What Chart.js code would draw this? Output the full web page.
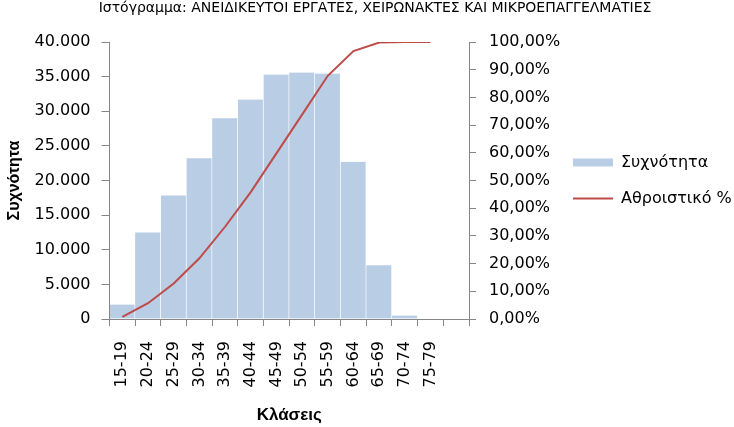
<!DOCTYPE html>
<html>
<head>
<meta charset="utf-8">
<script src="https://cdn.jsdelivr.net/npm/chart.js@4.4.1/dist/chart.umd.min.js"></script>
<style>
  html, body { margin: 0; padding: 0; background: #ffffff; }
  #wrap { width: 734px; height: 427px; }
</style>
</head>
<body>
<div id="wrap"><canvas id="c" width="734" height="427"></canvas></div>
<script>
// ---- data ----
const chartTitle = 'Ιστόγραμμα: ΑΝΕΙΔΙΚΕΥΤΟΙ ΕΡΓΑΤΕΣ, ΧΕΙΡΩΝΑΚΤΕΣ ΚΑΙ ΜΙΚΡΟΕΠΑΓΓΕΛΜΑΤΙΕΣ';
const classes = ['15-19', '20-24', '25-29', '30-34', '35-39', '40-44', '45-49',
                 '50-54', '55-59', '60-64', '65-69', '70-74', '75-79', ''];
const frequency = [2100, 12500, 17850, 23200, 29000, 31700, 35300,
                   35600, 35450, 22700, 7750, 500, 0, 0];
const cumulativePct = [0.8, 5.7, 12.8, 21.9, 33.3, 45.8, 59.8,
                       73.8, 87.8, 96.7, 99.8, 100, 100, null];
const seriesNames = ['Συχνότητα', 'Αθροιστικό %'];
const xAxisTitle = 'Κλάσεις';
const yAxisTitle = 'Συχνότητα';
const freqTickStep = 5000;
const freqMax = 40000;
const pctTickStep = 10;
const pctMax = 100;

// ---- styling ----
const BAR_COLOR = '#B9CDE5';
const LINE_COLOR = '#BE4B48';
const AXIS_COLOR = '#868686';
const TICK_FONT = { family: "'DejaVu Sans', sans-serif", size: 16 };
const AXIS_TITLE_FONT = { family: "'Liberation Sans', Arial, sans-serif", size: 16, weight: 'bold' };

function fmtThousands(v) {
  return String(v).replace(/\B(?=(\d{3})+(?!\d))/g, '.');
}
function fmtPct(v) {
  return v.toFixed(2).replace('.', ',') + '%';
}

// place legend / title where the reference has them (after Chart.js layout)
const boxPlacer = {
  id: 'boxPlacer',
  afterLayout(chart) {
    const lg = chart.legend;
    if (lg) { lg.left = 553; lg.right = chart.width; lg.width = lg.right - lg.left; }
    const tb = chart.titleBlock;
    if (tb) { tb.left = 16; tb.right = chart.width; tb.width = tb.right - tb.left; }
  }
};

new Chart(document.getElementById('c'), {
  type: 'bar',
  data: {
    labels: classes,
    datasets: [
      {
        type: 'line',
        label: seriesNames[1],
        data: cumulativePct,
        yAxisID: 'y1',
        borderColor: LINE_COLOR,
        backgroundColor: LINE_COLOR,
        borderWidth: 2,
        pointRadius: 0,
        tension: 0,
        fill: false,
        spanGaps: false
      },
      {
        type: 'bar',
        label: seriesNames[0],
        data: frequency,
        yAxisID: 'y',
        backgroundColor: BAR_COLOR,
        borderColor: '#ffffff',
        borderWidth: { top: 0, right: 1, bottom: 0, left: 0 },
        borderSkipped: false,
        barPercentage: 1,
        categoryPercentage: 1
      }
    ]
  },
  options: {
    responsive: false,
    devicePixelRatio: 1,
    animation: false,
    layout: { padding: 0 },
    plugins: {
      tooltip: { enabled: false },
      title: {
        display: true,
        text: chartTitle,
        color: '#000000',
        font: { family: "'DejaVu Sans', sans-serif", size: 14, weight: 'normal', lineHeight: 1.2 },
        padding: { top: 0, bottom: 25.2 }
      },
      legend: {
        display: true,
        position: 'right',
        align: 'center',
        fullSize: false,
        maxWidth: 100,
        labels: {
          color: '#000000',
          font: { family: "'DejaVu Sans', sans-serif", size: 16 },
          usePointStyle: true,
          pointStyleWidth: 40,
          boxHeight: 8,
          padding: 20,
          sort: (a, b) => b.datasetIndex - a.datasetIndex,
          generateLabels(chart) {
            const items = Chart.defaults.plugins.legend.labels.generateLabels(chart);
            items.forEach(it => {
              const ds = chart.data.datasets[it.datasetIndex];
              if (ds.type === 'line') {
                it.pointStyle = 'line';
                it.strokeStyle = LINE_COLOR;
                it.lineWidth = 2;
              } else {
                it.pointStyle = 'rect';
                it.fillStyle = BAR_COLOR;
                it.strokeStyle = BAR_COLOR;
                it.lineWidth = 0;
              }
            });
            return items;
          }
        }
      }
    },
    scales: {
      x: {
        offset: true,
        afterFit(scale) { scale.height = 108; },
        grid: {
          offset: true,
          drawOnChartArea: false,
          drawTicks: true,
          tickLength: 7,
          color: AXIS_COLOR
        },
        border: { display: true, color: AXIS_COLOR, width: 1, z: 1 },
        ticks: {
          autoSkip: false,
          maxRotation: 90,
          minRotation: 90,
          padding: 15,
          color: '#000000',
          font: TICK_FONT
        },
        title: {
          display: true,
          text: xAxisTitle,
          color: '#000000',
          font: { family: "'Liberation Sans', Arial, sans-serif", size: 17, weight: 'bold' },
          padding: { top: 0, bottom: 1 }
        }
      },
      y: {
        position: 'left',
        min: 0,
        max: freqMax,
        afterFit(scale) { scale.width = 109.5; },
        grid: {
          drawOnChartArea: false,
          drawTicks: true,
          tickLength: 8,
          color: AXIS_COLOR
        },
        border: { display: true, color: AXIS_COLOR, width: 1, z: 1 },
        ticks: {
          stepSize: freqTickStep,
          padding: 11,
          color: '#000000',
          font: TICK_FONT,
          callback: (v) => fmtThousands(v)
        },
        title: {
          display: true,
          text: yAxisTitle,
          color: '#000000',
          font: AXIS_TITLE_FONT,
          padding: { top: 5, bottom: 0 }
        }
      },
      y1: {
        position: 'right',
        min: 0,
        max: pctMax,
        afterFit(scale) { scale.width = 734 - 100 - 469; },
        grid: {
          drawOnChartArea: false,
          drawTicks: true,
          tickLength: 7,
          color: AXIS_COLOR
        },
        border: { display: true, color: AXIS_COLOR, width: 1, z: 1 },
        ticks: {
          stepSize: pctTickStep,
          padding: 13,
          color: '#000000',
          font: TICK_FONT,
          callback: (v) => fmtPct(v)
        }
      }
    }
  },
  plugins: [boxPlacer]
});
</script>
</body>
</html>
